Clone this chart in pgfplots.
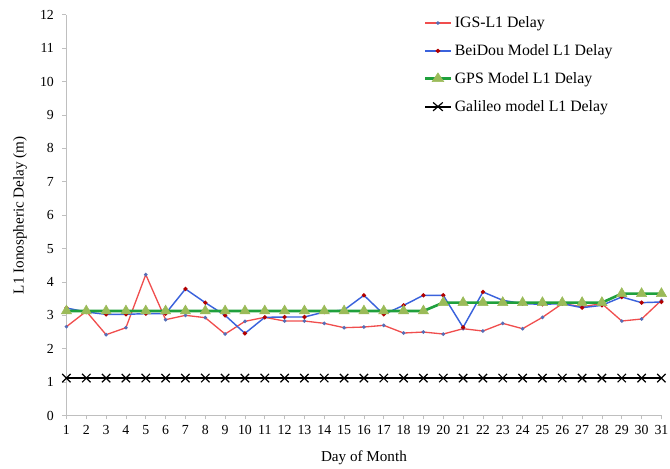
\documentclass[border=0pt]{standalone}
\usepackage{pgfplots}
\pgfplotsset{compat=1.18}
\usepackage{fontspec}
\setmainfont{Liberation Serif}
\definecolor{igsred}{HTML}{F04E4E}
\definecolor{bdblue}{HTML}{3A62DC}
\definecolor{gpsgreen}{HTML}{1FA03C}
\definecolor{trifill}{HTML}{9BBB59}
\definecolor{axgray}{HTML}{BFBFBF}
\begin{document}
\begin{tikzpicture}[x=1bp,y=1bp]
\useasboundingbox (-50.25,-39.75) rectangle (456.5,314.25);
\begin{axis}[
  at={(0,0)}, anchor=south west,
  scale only axis,
  width=450bp, height=303bp,
  xmin=1, xmax=31, ymin=0, ymax=12,
  xtick={1,...,31}, ytick={0,...,12},
  axis lines*=left,
  axis line style={axgray, line width=0.8pt},
  tick style={axgray, line width=0.6pt},
  tick align=outside,
  major tick length=3bp,
  clip=false,
  ticklabel style={font=\fontsize{10.5}{12}\selectfont},
  yticklabel style={xshift=-3bp},
  xticklabel style={yshift=-1bp},
  /pgf/number format/assume math mode=true,
  xlabel={Day of Month},
  ylabel={L1 Ionospheric Delay (m)},
  label style={font=\fontsize{11.5}{13}\selectfont},
  xlabel style={at={(axis description cs:0.5,-0.106)}, anchor=center},
  ylabel style={at={(axis description cs:-0.078,0.5)}, anchor=center},
  legend style={at={(0.6,1.003)}, anchor=north west, draw=none, fill=none,
    font=\fontsize{12}{13}\selectfont, row sep=7.3bp, inner sep=0pt},
  legend cell align=left,
  legend image post style={xscale=1.15},
]
\addplot[igsred, line width=1pt, mark=*, mark size=0.8pt, mark options={fill=bdblue!60!gray, draw=bdblue!60!gray}] coordinates {
(1,2.66)(2,3.12)(3,2.42)(4,2.63)(5,4.22)(6,2.87)(7,3.0)(8,2.93)(9,2.44)(10,2.82)
(11,2.94)(12,2.83)(13,2.83)(14,2.76)(15,2.63)(16,2.65)(17,2.70)(18,2.47)(19,2.50)(20,2.44)
(21,2.60)(22,2.53)(23,2.76)(24,2.60)(25,2.94)(26,3.35)(27,3.26)(28,3.35)(29,2.83)(30,2.89)(31,3.45)};
\addlegendentry{IGS-L1 Delay}
\addplot[bdblue, line width=1.1pt, mark=*, mark size=1pt, mark options={fill=red!70!black, draw=red!70!black}] coordinates {
(1,3.22)(2,3.10)(3,3.03)(4,3.03)(5,3.05)(6,3.05)(7,3.79)(8,3.38)(9,3.0)(10,2.46)
(11,2.94)(12,2.95)(13,2.95)(14,3.10)(15,3.16)(16,3.60)(17,3.03)(18,3.30)(19,3.60)(20,3.60)
(21,2.64)(22,3.70)(23,3.45)(24,3.35)(25,3.33)(26,3.35)(27,3.23)(28,3.30)(29,3.55)(30,3.38)(31,3.40)};
\addlegendentry{BeiDou Model L1 Delay}
\addplot[gpsgreen, line width=2pt, mark=triangle*, mark size=4.5pt, mark options={fill=trifill, draw=trifill, line width=0.4pt}] coordinates {
(1,3.13)(2,3.13)(3,3.13)(4,3.13)(5,3.13)(6,3.13)(7,3.13)(8,3.13)(9,3.13)(10,3.13)
(11,3.13)(12,3.13)(13,3.13)(14,3.13)(15,3.13)(16,3.13)(17,3.13)(18,3.13)(19,3.13)(20,3.38)
(21,3.38)(22,3.38)(23,3.38)(24,3.38)(25,3.38)(26,3.38)(27,3.38)(28,3.38)(29,3.65)(30,3.65)(31,3.65)};
\addlegendentry{GPS Model L1 Delay}
\addplot[black, line width=1.6pt, mark=x, mark size=4.5pt, mark options={line width=0.9pt}] coordinates {
(1,1.12)(2,1.12)(3,1.12)(4,1.12)(5,1.12)(6,1.12)(7,1.12)(8,1.12)(9,1.12)(10,1.12)
(11,1.12)(12,1.12)(13,1.12)(14,1.12)(15,1.12)(16,1.12)(17,1.12)(18,1.12)(19,1.12)(20,1.12)
(21,1.12)(22,1.12)(23,1.12)(24,1.12)(25,1.12)(26,1.12)(27,1.12)(28,1.12)(29,1.12)(30,1.12)(31,1.12)};
\addlegendentry{Galileo model L1 Delay}
\end{axis}
\end{tikzpicture}
\end{document}
